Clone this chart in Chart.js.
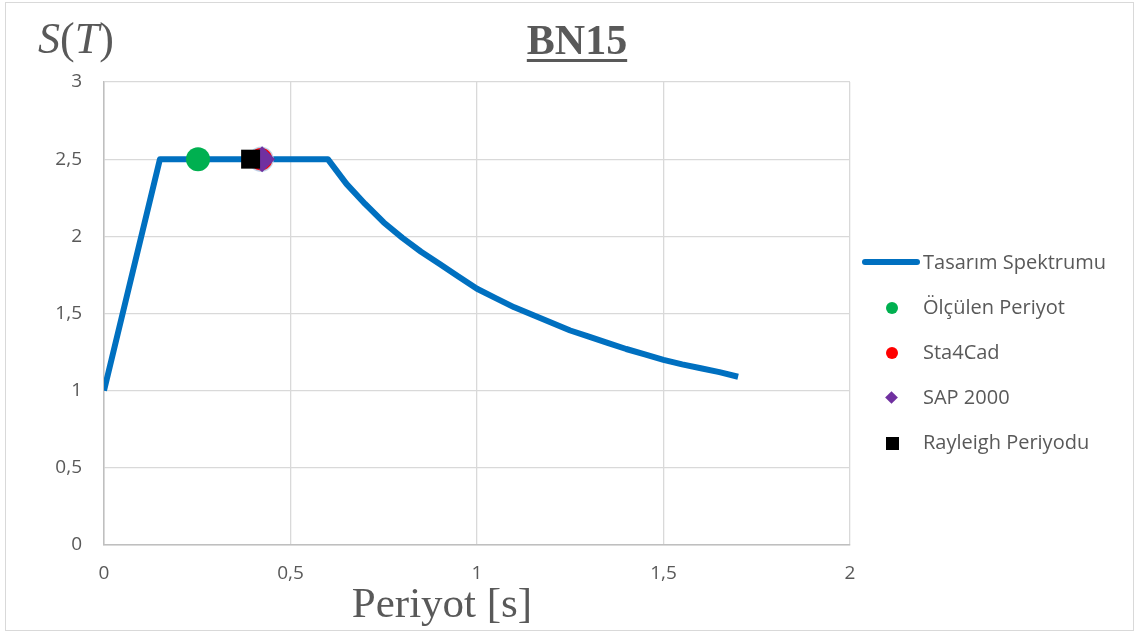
<!DOCTYPE html>
<html>
<head>
<meta charset="utf-8">
<script src="https://cdn.jsdelivr.net/npm/chart.js@4"></script>
<style>
  html, body { margin: 0; padding: 0; background: #fff; }
  #wrap { position: relative; width: 1140px; height: 637px; overflow: hidden; }
  #frame { position: absolute; left: 5px; top: 2px; width: 1129px; height: 629px; border: 1.5px solid #d9d9d9; box-sizing: border-box; }
  canvas { position: absolute; left: 0; top: 0; }
  .lbl { position: absolute; color: #595959; white-space: nowrap; }
  #ytitle { left: 38px; top: 13px; font: 44px "Liberation Serif", serif; }
  #ytitle i { font-style: italic; }
  #title { left: 0; width: 1154px; text-align: center; top: 16px; font: bold 42px "Liberation Serif", serif; text-decoration: underline; text-decoration-thickness: 3px; text-underline-offset: 5px; }
  #xtitle { left: 0; width: 884px; text-align: center; top: 578px; font: 43px "Liberation Serif", serif; }
  #legend { position: absolute; left: 860px; top: 248px; font: 20px "Open Sans", sans-serif; color: #595959; }
  .item { position: relative; height: 45px; width: 275px; }
  .item span.t { position: absolute; left: 63px; top: 0; white-space: nowrap; }
  .mk { position: absolute; }
</style>
</head>
<body>
<div id="wrap">
  <div id="frame"></div>
  <canvas id="myChart" width="1140" height="637"></canvas>
  <div class="lbl" id="ytitle"><i>S</i>(<i>T</i>)</div>
  <div class="lbl" id="title">BN15</div>
  <div class="lbl" id="xtitle">Periyot [s]</div>
  <div id="legend"></div>
</div>
<script>
// design spectrum
const periods = [0, 0.15, 0.6, 0.65, 0.7, 0.75, 0.8, 0.85, 0.9, 0.95, 1.0, 1.05, 1.1, 1.15, 1.2, 1.25, 1.3, 1.35, 1.4, 1.45, 1.5, 1.55, 1.6, 1.65, 1.7];
const spectrum = [1.0, 2.5, 2.5, 2.34, 2.21, 2.09, 1.99, 1.90, 1.82, 1.74, 1.66, 1.60, 1.54, 1.49, 1.44, 1.39, 1.35, 1.31, 1.27, 1.235, 1.20, 1.17, 1.145, 1.12, 1.09];

// period estimates
const measured = [{ x: 0.252, y: 2.5 }];
const sta4cad = [{ x: 0.421, y: 2.5 }];
const sap2000 = [{ x: 0.424, y: 2.5 }];
const rayleigh = [{ x: 0.393, y: 2.5 }];

const xTicks = [0, 0.5, 1, 1.5, 2];
const yTicks = [0, 0.5, 1, 1.5, 2, 2.5, 3];

const seriesNames = ['Tasarım Spektrumu', 'Ölçülen Periyot', 'Sta4Cad', 'SAP 2000', 'Rayleigh Periyodu'];

const comma = v => String(v).replace('.', ',');

const ctx = document.getElementById('myChart').getContext('2d');
const myChart = new Chart(ctx, {
    type: 'scatter',
    data: {
        datasets: [
            {
                label: seriesNames[0],
                data: periods.map((t, i) => ({ x: t, y: spectrum[i] })),
                showLine: true,
                borderColor: '#0070C0',
                borderWidth: 6,
                pointRadius: 0,
                borderJoinStyle: 'round',
                tension: 0,
                order: 5
            },
            {
                label: seriesNames[1],
                data: measured,
                pointStyle: 'circle',
                pointRadius: 12,
                backgroundColor: '#00B050',
                borderColor: '#00B050',
                borderWidth: 0,
                order: 4
            },
            {
                label: seriesNames[2],
                data: sta4cad,
                pointStyle: 'circle',
                pointRadius: 12,
                backgroundColor: '#FF0000',
                borderColor: 'rgba(189,215,238,0.9)',
                borderWidth: 1.5,
                order: 3
            },
            {
                label: seriesNames[3],
                data: sap2000,
                pointStyle: 'rectRot',
                pointRadius: 13,
                backgroundColor: '#7030A0',
                borderColor: '#7030A0',
                borderWidth: 0,
                order: 2
            },
            {
                label: seriesNames[4],
                data: rayleigh,
                pointStyle: 'rect',
                pointRadius: 13.4,
                backgroundColor: '#000000',
                borderColor: '#000000',
                borderWidth: 0,
                order: 1
            }
        ]
    },
    options: {
        responsive: false,
        animation: false,
        layout: { padding: { top: 82, right: 290, left: 0, bottom: 0 } },
        plugins: {
            legend: { display: false },
            tooltip: { enabled: false }
        },
        scales: {
            x: {
                type: 'linear',
                min: 0,
                max: 2,
                afterBuildTicks: s => { s.ticks = xTicks.map(v => ({ value: v })); },
                afterFit: s => { s.height = 92; },
                ticks: {
                    color: '#595959',
                    font: { family: 'Open Sans', size: 19 },
                    padding: 17,
                    callback: v => comma(v)
                },
                grid: { color: '#d9d9d9', lineWidth: 1.3, drawTicks: false },
                border: { color: '#bfbfbf', width: 1.5 }
            },
            y: {
                min: 0,
                max: 3,
                afterBuildTicks: s => { s.ticks = yTicks.map(v => ({ value: v })); },
                afterFit: s => { s.width = 104; },
                ticks: {
                    color: '#595959',
                    font: { family: 'Open Sans', size: 19 },
                    padding: 22,
                    callback: v => comma(v)
                },
                grid: { color: '#d9d9d9', lineWidth: 1.3, drawTicks: false },
                border: { color: '#bfbfbf', width: 1.5 }
            }
        }
    }
});

// legend drawn as html next to the chart
const legend = document.getElementById('legend');
myChart.data.datasets.forEach((ds, i) => {
    const item = document.createElement('div');
    item.className = 'item';
    const mk = document.createElement('div');
    mk.className = 'mk';
    if (i === 0) {
        Object.assign(mk.style, { left: '2px', top: '11px', width: '58px', height: '6px', borderRadius: '3px', background: ds.borderColor });
    } else if (ds.pointStyle === 'circle') {
        Object.assign(mk.style, { left: '26px', top: '9px', width: '12px', height: '12px', borderRadius: '50%', background: ds.backgroundColor });
    } else if (ds.pointStyle === 'rectRot') {
        Object.assign(mk.style, { left: '27px', top: '10px', width: '9px', height: '9px', transform: 'rotate(45deg)', background: ds.backgroundColor });
    } else {
        Object.assign(mk.style, { left: '26px', top: '9px', width: '13px', height: '13px', background: ds.backgroundColor });
    }
    const t = document.createElement('span');
    t.className = 't';
    t.textContent = ds.label;
    item.appendChild(mk);
    item.appendChild(t);
    legend.appendChild(item);
});
</script>
</body>
</html>
